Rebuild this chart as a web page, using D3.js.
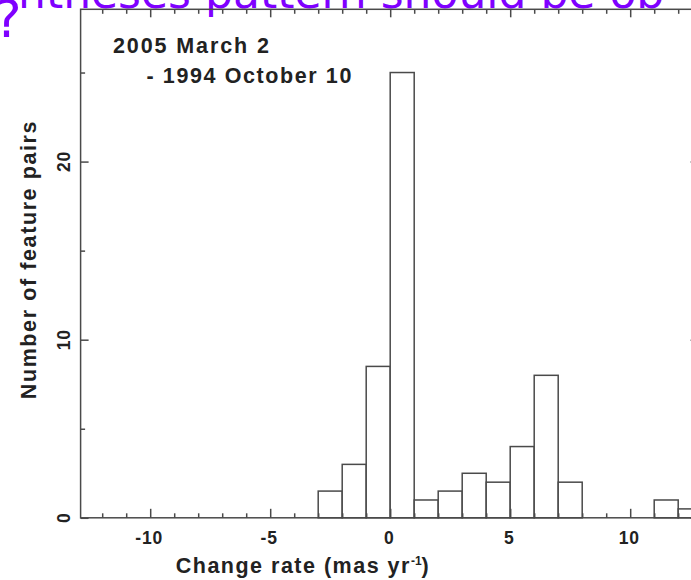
<!DOCTYPE html>
<html>
<head>
<meta charset="utf-8">
<script src="https://cdn.jsdelivr.net/npm/d3@7"></script>
<style>
  body { margin: 0; background: #fff; }
  svg { display: block; }
</style>
</head>
<body>
<script>
// Histogram of change rates, 1 mas/yr bins
const binStart = [-3, -2, -1, 0, 1, 2, 3, 4, 5, 6, 7, 11, 12];
const binCount = [1.5, 3, 8.5, 25, 1, 1.5, 2.5, 2, 4, 8, 2, 1, 0.5];
const binWidth = 1;
const xMajorTicks = [-10, -5, 0, 5, 10];
const xMinorTicks = [-12, -11, -9, -8, -7, -6, -4, -3, -2, -1, 1, 2, 3, 4, 6, 7, 8, 9, 11, 12];
const yMajorTicks = [0, 10, 20];
const yMinorTicks = [5, 15, 25];
const epochLines = ["2005 March 2", "- 1994 October 10"];
const overlayMark = "?";
const overlayText = "ntheses pattern should be ob";

const W = 691, H = 580;
const svg = d3.select("body").append("svg").attr("width", W).attr("height", H);

const x = d3.scaleLinear().domain([-12.9, 12.85]).range([80.6, 698.6]);
const y = d3.scaleLinear().domain([0, 28.55]).range([517.8, 9.3]);

const ink = "#222";
const lineCol = "#4a4a4a";
const font = "'Liberation Sans', Arial, Helvetica, sans-serif";
const purple = "#7f00ff";

// overlaid caption running off the top edge
svg.append("text")
  .attr("x", -6).attr("y", 37)
  .attr("font-family", "'DejaVu Sans', sans-serif")
  .attr("font-size", 52)
  .attr("fill", purple)
  .text(overlayMark);
const cap = svg.append("text")
  .attr("x", 0).attr("y", 8)
  .attr("font-family", "'DejaVu Sans', sans-serif")
  .attr("font-size", 44)
  .attr("fill", purple)
  .text(overlayText);
const pIdx = overlayText.indexOf("pattern");
const pPos = cap.node().getStartPositionOfChar(pIdx).x;
cap.attr("x", 205 - pPos);

// bars
svg.append("g").selectAll("rect")
  .data(binStart.map((s, i) => ({ s, c: binCount[i] })))
  .join("rect")
  .attr("x", d => x(d.s))
  .attr("y", d => y(d.c))
  .attr("width", d => x(d.s + binWidth) - x(d.s))
  .attr("height", d => y(0) - y(d.c))
  .attr("fill", "#fff")
  .attr("stroke", lineCol)
  .attr("stroke-width", 1.5);

// frame ticks (all pointing inward)
function tickAxis(axisFn, scale, values, size, transform) {
  const g = svg.append("g").attr("transform", transform)
    .call(axisFn(scale).tickValues(values).tickSize(size).tickSizeOuter(0).tickFormat(""));
  g.select(".domain").remove();
  g.selectAll(".tick line").attr("stroke", lineCol).attr("stroke-width", 1.5);
  return g;
}
const [x0, x1] = x.range();
const [yb, yt] = y.range();
tickAxis(d3.axisBottom, x, xMajorTicks, -9, `translate(0,${yb})`);
tickAxis(d3.axisBottom, x, xMinorTicks, -4.5, `translate(0,${yb})`);
tickAxis(d3.axisTop, x, xMajorTicks, -8, `translate(0,${yt})`);
tickAxis(d3.axisTop, x, xMinorTicks, -4.5, `translate(0,${yt})`);
tickAxis(d3.axisLeft, y, yMajorTicks, -8, `translate(${x0},0)`);
tickAxis(d3.axisLeft, y, yMinorTicks, -4.5, `translate(${x0},0)`);
tickAxis(d3.axisRight, y, yMajorTicks, -8, `translate(${x1},0)`);
tickAxis(d3.axisRight, y, yMinorTicks, -4.5, `translate(${x1},0)`);

// frame
svg.append("rect")
  .attr("x", x0).attr("y", yt)
  .attr("width", x1 - x0).attr("height", yb - yt)
  .attr("fill", "none").attr("stroke", lineCol).attr("stroke-width", 1.5);

// x tick labels
svg.append("g").selectAll("text")
  .data(xMajorTicks)
  .join("text")
  .attr("x", d => x(d) - 1)
  .attr("y", 544)
  .attr("text-anchor", "middle")
  .attr("font-family", font).attr("font-weight", "bold")
  .attr("font-size", 17.5).attr("letter-spacing", 0.8)
  .attr("fill", ink)
  .text(d => d);

// y tick labels (rotated)
svg.append("g").selectAll("text")
  .data(yMajorTicks)
  .join("text")
  .attr("transform", d => `translate(70,${y(d)}) rotate(-90)`)
  .attr("text-anchor", "middle")
  .attr("font-family", font).attr("font-weight", "bold")
  .attr("font-size", 17.5).attr("letter-spacing", 0.8)
  .attr("fill", ink)
  .text(d => d);

// axis titles
const xt = svg.append("text")
  .attr("x", 303).attr("y", 573)
  .attr("text-anchor", "middle")
  .attr("font-family", font).attr("font-weight", "bold")
  .attr("font-size", 21.5).attr("letter-spacing", 1.5)
  .attr("fill", ink);
xt.append("tspan").text("Change rate (mas yr");
xt.append("tspan").attr("font-size", 12).attr("dy", -8).attr("letter-spacing", 0).text("-1");
xt.append("tspan").attr("dy", 8).text(")");

svg.append("text")
  .attr("transform", `translate(36,${(yb + yt) / 2 - 4}) rotate(-90)`)
  .attr("text-anchor", "middle")
  .attr("font-family", font).attr("font-weight", "bold")
  .attr("font-size", 21.5).attr("letter-spacing", 1.6)
  .attr("fill", ink)
  .text("Number of feature pairs");

// epoch annotation
svg.append("text")
  .attr("x", 113).attr("y", 52.7)
  .attr("font-family", font).attr("font-weight", "bold")
  .attr("font-size", 21.5).attr("letter-spacing", 1.9)
  .attr("fill", ink)
  .text(epochLines[0]);
svg.append("text")
  .attr("x", 146.5).attr("y", 83.3)
  .attr("font-family", font).attr("font-weight", "bold")
  .attr("font-size", 21.5).attr("letter-spacing", 1.6)
  .attr("fill", ink)
  .text(epochLines[1]);
</script>
</body>
</html>
